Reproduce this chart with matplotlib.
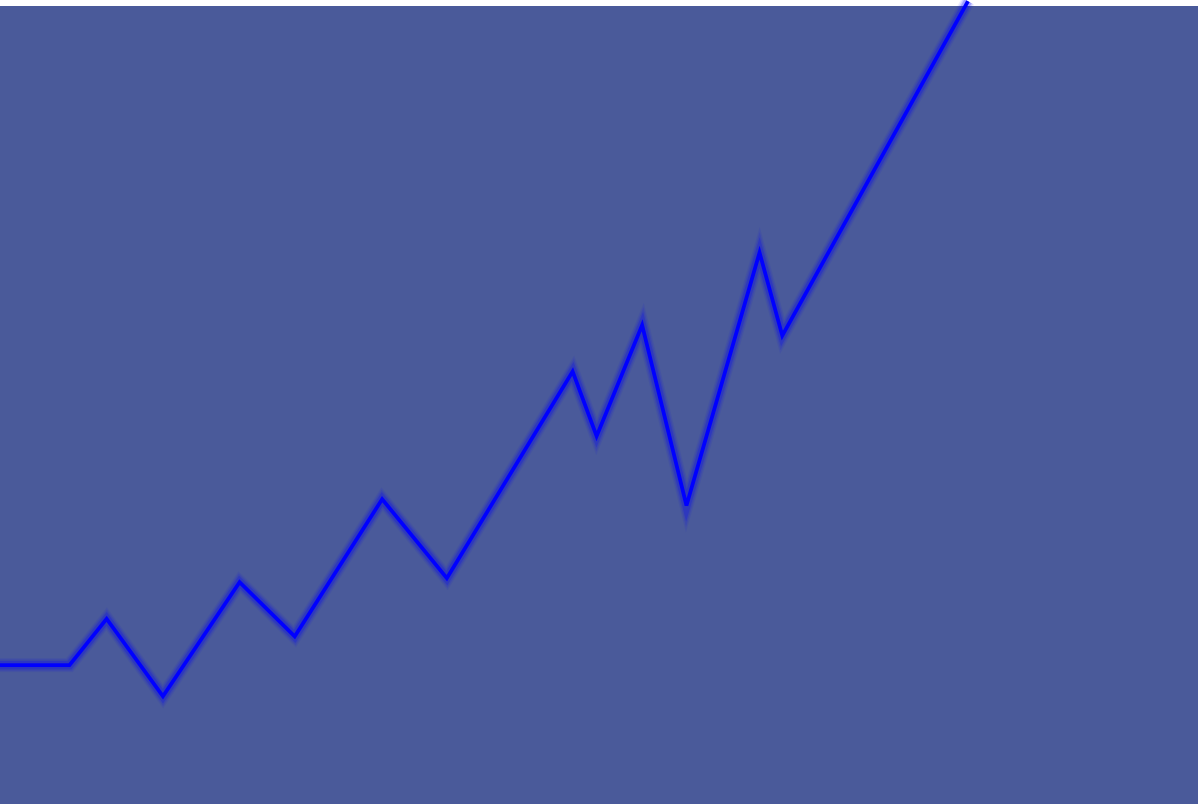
import matplotlib
matplotlib.use("Agg")
import matplotlib.pyplot as plt

# Data (x and y in arbitrary 0-100 units)
x_vals = [0.0, 5.8, 8.9, 13.6, 20.0, 24.6, 31.9, 37.3, 47.8, 49.8, 53.6, 57.3, 63.4, 65.3, 80.8]
y_vals = [17.4, 17.4, 23.2, 13.5, 27.8, 21.0, 38.2, 28.3, 54.2, 46.1, 60.0, 37.4, 69.1, 58.7, 100.6]

BG = "#4a5a9a"
LINE = "#0000ff"

fig = plt.figure(figsize=(12, 8.06), dpi=100)
fig.patch.set_facecolor("white")
ax = fig.add_axes([0, 2 / 806, 1198 / 1200, 798 / 806])
ax.set_facecolor(BG)
ax.set_xlim(0, 100)
ax.set_ylim(0, 100)

# glow layers
for lw, a in [(10, 0.08), (8, 0.12), (6, 0.22)]:
    ax.plot(x_vals, y_vals, color=LINE, lw=lw, alpha=a, solid_joinstyle="miter",
            solid_capstyle="butt", clip_on=False)
ax.plot(x_vals, y_vals, color=LINE, lw=2.7, solid_joinstyle="miter",
        solid_capstyle="butt", clip_on=False)

ax.set_xticks([])
ax.set_yticks([])
for s in ax.spines.values():
    s.set_visible(False)

fig.savefig("out.png", dpi=100, facecolor="white")
